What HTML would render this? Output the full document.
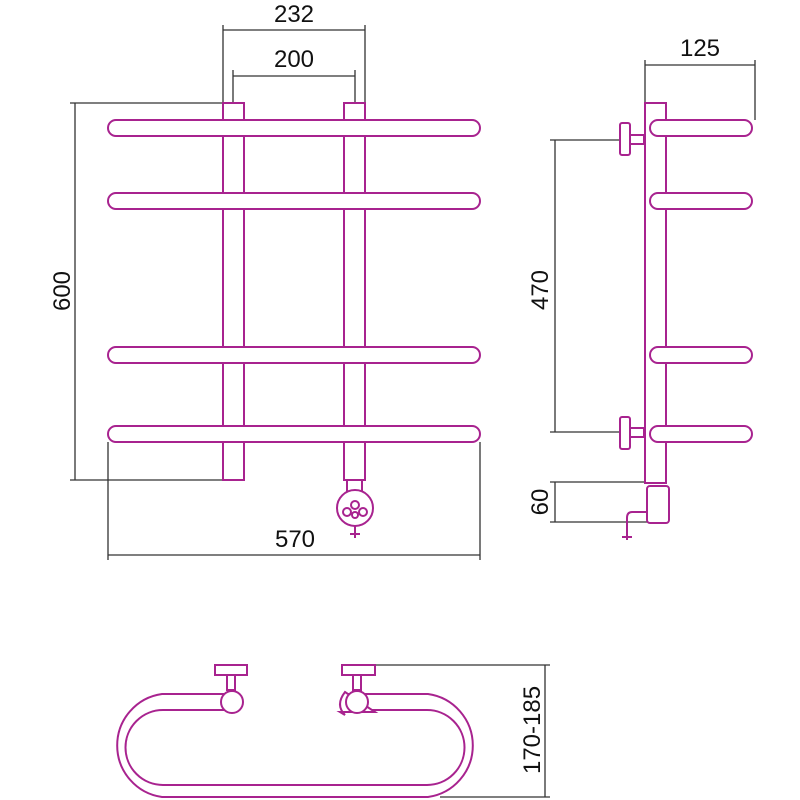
<!DOCTYPE html>
<html><head><style>body{margin:0;background:#fff}svg{display:block}</style></head><body>
<svg width="800" height="800" viewBox="0 0 800 800" xmlns="http://www.w3.org/2000/svg">
<g fill="none" stroke="#333" stroke-width="1.3">
<!-- 232 -->
<path d="M223 25V103M365 25V103M223 30H365"/>
<!-- 200 -->
<path d="M233 70V103M355 70V103M233 76H355"/>
<!-- 600 -->
<path d="M70 103H223M70 480H223M75 103V480"/>
<!-- 570 -->
<path d="M108 442V560M480 442V560M108 555H480"/>
<!-- 125 -->
<path d="M645 60V103M755 60V120M645 65H755"/>
<!-- 470 -->
<path d="M550 140H620M550 432H620M555 140V432"/>
<!-- 60 -->
<path d="M550 482H648M550 522H648M555 482V522"/>
<!-- 170-185 -->
<path d="M375 665H550M440 797H550M545 665V797"/>
</g>
<g font-family="Liberation Sans, sans-serif" font-size="24" fill="#111" text-anchor="middle">
<text x="294" y="22">232</text>
<text x="294" y="67">200</text>
<text x="295" y="547">570</text>
<text x="700" y="56">125</text>
<text transform="translate(70,291) rotate(-90)">600</text>
<text transform="translate(548,290) rotate(-90)">470</text>
<text transform="translate(548,502) rotate(-90)">60</text>
<text transform="translate(540,730) rotate(-90)">170-185</text>
</g>
<g fill="#fff" stroke="#a8238f" stroke-width="2">
<!-- front posts -->
<rect x="223" y="103" width="21" height="377"/>
<rect x="344" y="103" width="21" height="377"/>
<!-- bars -->
<rect x="108" y="120" width="372" height="16" rx="8"/>
<rect x="108" y="193" width="372" height="16" rx="8"/>
<rect x="108" y="347" width="372" height="16" rx="8"/>
<rect x="108" y="426" width="372" height="16" rx="8"/>
<!-- heater front -->
<rect x="347" y="480" width="15" height="12"/>
<circle cx="355" cy="508" r="18"/>
<circle cx="355" cy="505" r="4"/>
<circle cx="347" cy="512" r="4"/>
<circle cx="363" cy="512" r="4"/>
<circle cx="355" cy="515" r="3"/>
<path d="M355 526V538M350 534H360" fill="none"/>
<!-- side view -->
<rect x="645" y="103" width="21" height="380"/>
<rect x="650" y="120" width="102" height="16" rx="8"/>
<rect x="650" y="193" width="102" height="16" rx="8"/>
<rect x="650" y="347" width="102" height="16" rx="8"/>
<rect x="650" y="426" width="102" height="16" rx="8"/>
<rect x="620" y="123" width="10" height="32" rx="2"/>
<rect x="630" y="135" width="14" height="9"/>
<rect x="620" y="417" width="10" height="32" rx="2"/>
<rect x="630" y="428" width="14" height="9"/>
<rect x="647" y="486" width="22" height="37" rx="3"/>
<path d="M648 512H632Q627 512 627 518V540M622 537H632" fill="none"/>
<!-- bottom view -->
<path d="M232 694H162A52 52 0 0 0 162 797H428A52 52 0 0 0 428 694H345V710H427A37.5 37.5 0 0 1 427 785H163A37.5 37.5 0 0 1 163 710H232Z"/>
<rect x="215" y="665" width="32" height="10"/>
<rect x="227" y="675" width="8" height="15"/>
<circle cx="232" cy="702" r="11"/>
<rect x="342" y="665" width="33" height="10"/>
<rect x="353" y="675" width="8" height="15"/>
<path d="M345 715Q335 705 345 692L375 712H340Z"/>
<circle cx="357" cy="702" r="11"/>
</g>
</svg>
</body></html>
